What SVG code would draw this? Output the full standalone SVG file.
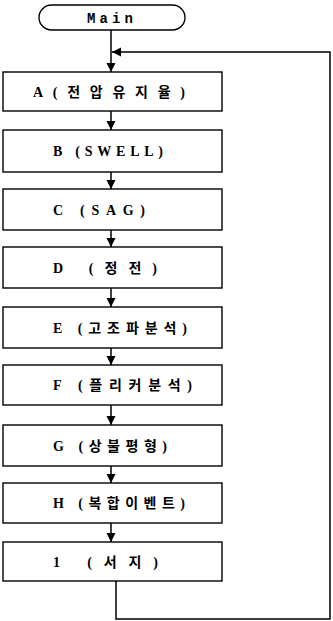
<svg xmlns="http://www.w3.org/2000/svg" width="333" height="621" viewBox="0 0 333 621">
<defs>
<marker id="ah" markerWidth="10" markerHeight="10" refX="9" refY="5" orient="auto" markerUnits="userSpaceOnUse">
<path d="M0,0.5 L9,5 L0,9.5 Z" fill="#000"/>
</marker>
<style>
.box{fill:#fff;stroke:#000;stroke-width:1.4}
.t{font-family:"Liberation Serif","Noto Sans CJK KR",serif;font-weight:bold;font-size:14px;fill:#000}
.m{font-family:"Liberation Mono","Noto Sans CJK KR",monospace;font-weight:bold;font-size:14px;fill:#000}
.c{fill:none;stroke:#000;stroke-width:1.5}
</style>
</defs>
<rect width="333" height="621" fill="#fff"/>
<g id="connectors">
<line class="c" x1="111" y1="30" x2="111" y2="72" marker-end="url(#ah)"/>
<line class="c" x1="111" y1="111" x2="111" y2="130" marker-end="url(#ah)"/>
<line class="c" x1="111" y1="172" x2="111" y2="189" marker-end="url(#ah)"/>
<line class="c" x1="111" y1="230" x2="111" y2="247" marker-end="url(#ah)"/>
<line class="c" x1="111" y1="288" x2="111" y2="307" marker-end="url(#ah)"/>
<line class="c" x1="111" y1="348" x2="111" y2="365" marker-end="url(#ah)"/>
<line class="c" x1="111" y1="405" x2="111" y2="425" marker-end="url(#ah)"/>
<line class="c" x1="111" y1="466" x2="111" y2="483" marker-end="url(#ah)"/>
<line class="c" x1="111" y1="523" x2="111" y2="542" marker-end="url(#ah)"/>
<polyline class="c" points="116,581 116,619 330,619 330,52 112,52" marker-end="url(#ah)"/>
</g>
<g id="main">
<rect x="39" y="5" width="146" height="25" rx="12.5" ry="12.5" class="box"/>
<text class="m" x="87" y="22.5" textLength="46" lengthAdjust="spacing">Main</text>
</g>
<g id="A"><rect class="box" x="3" y="72" width="219" height="39"/><text class="t" x="33" y="96.5" textLength="152" lengthAdjust="spacing">A(전압유지율)</text></g>
<g id="B"><rect class="box" x="3" y="130" width="219" height="42"/><text class="t" x="53" y="156" textLength="110" lengthAdjust="spacing">B (SWELL)</text></g>
<g id="C"><rect class="box" x="3" y="189" width="219" height="41"/><text class="t" x="53" y="214.5" textLength="92" lengthAdjust="spacing">C (SAG)</text></g>
<g id="D"><rect class="box" x="3" y="247" width="219" height="41"/><text class="t" x="53" y="272.5" textLength="104" lengthAdjust="spacing">D (정전)</text></g>
<g id="E"><rect class="box" x="3" y="307" width="219" height="41"/><text class="t" x="53" y="332.5" textLength="134" lengthAdjust="spacing">E (고조파분석)</text></g>
<g id="F"><rect class="box" x="3" y="365" width="219" height="40"/><text class="t" x="53" y="390" textLength="139" lengthAdjust="spacing">F (플리커분석)</text></g>
<g id="G"><rect class="box" x="3" y="425" width="219" height="41"/><text class="t" x="53" y="450.5" textLength="114" lengthAdjust="spacing">G (상불평형)</text></g>
<g id="H"><rect class="box" x="3" y="483" width="219" height="40"/><text class="t" x="53" y="508" textLength="132" lengthAdjust="spacing">H (복합이벤트)</text></g>
<g id="I"><rect class="box" x="3" y="542" width="219" height="39"/><text class="t" x="53" y="566.5" textLength="105" lengthAdjust="spacing">1 (서지)</text></g>
</svg>
